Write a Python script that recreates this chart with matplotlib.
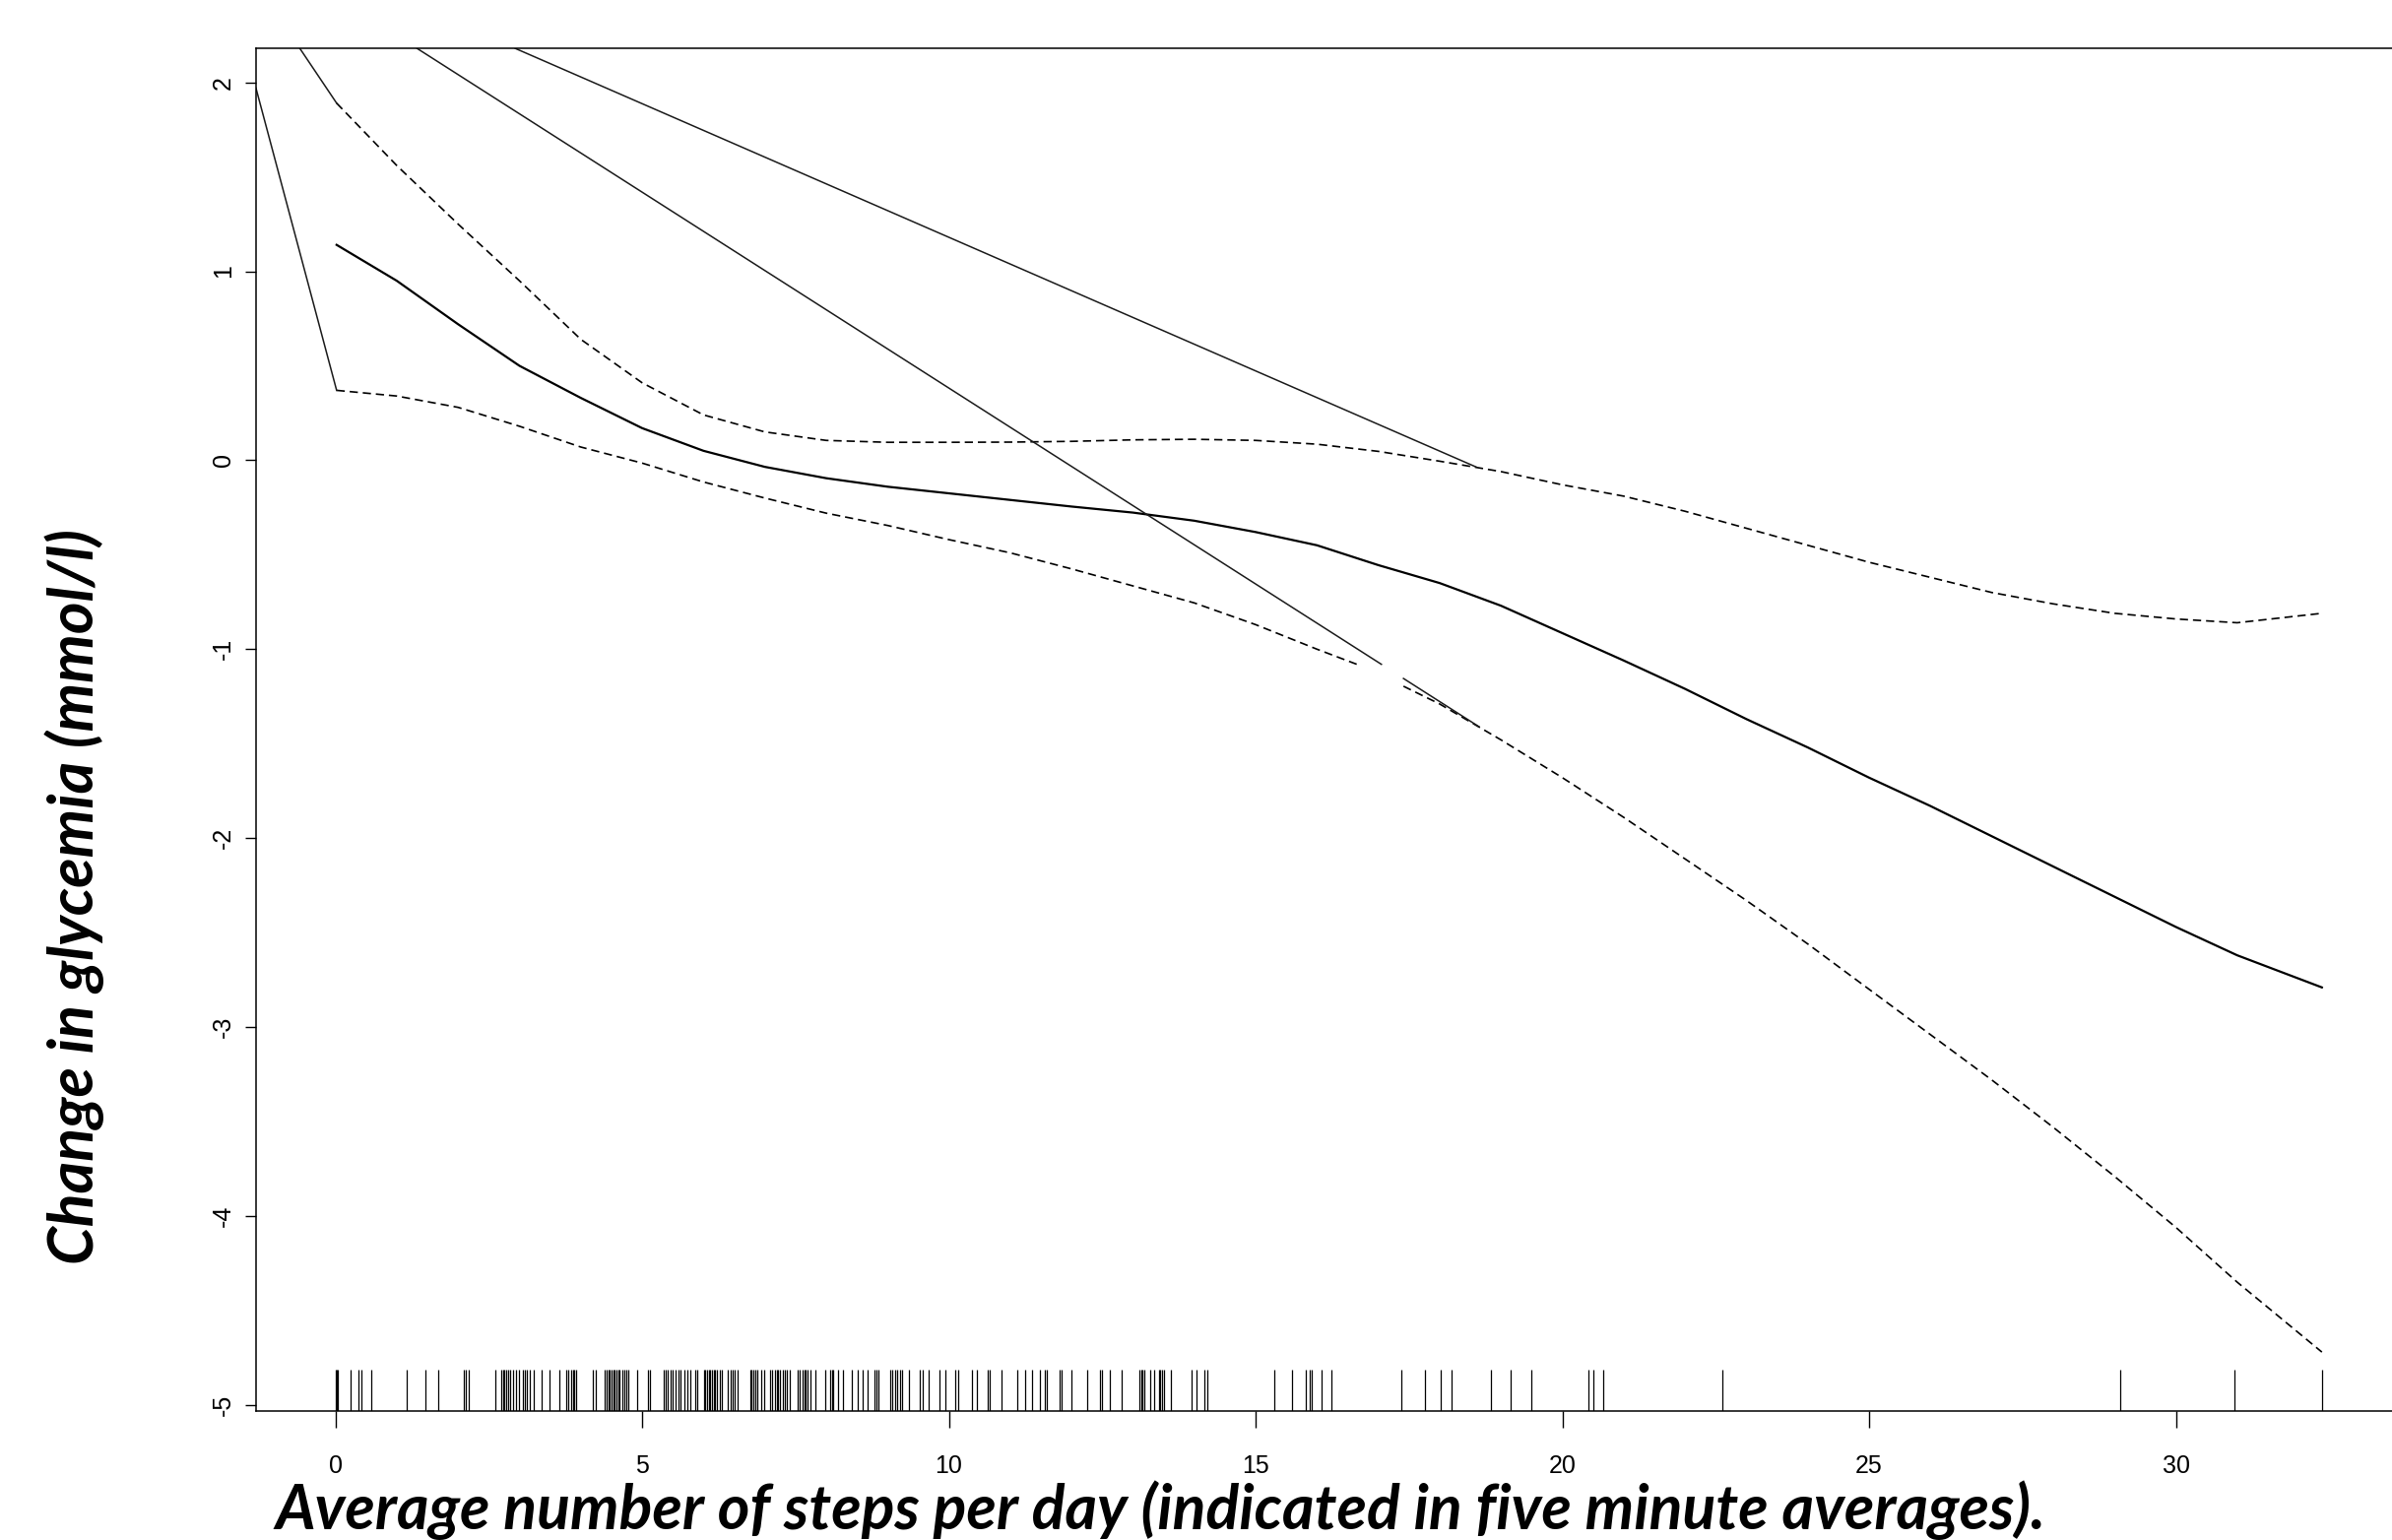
import numpy as np
import matplotlib.pyplot as plt

plt.rcParams['font.family'] = ['Liberation Sans', 'DejaVu Sans']
plt.rcParams['axes.unicode_minus'] = False

# smooth term: fitted curve and dashed band
steps = [0.02, 1, 2, 3, 4, 5, 6, 7, 8, 9, 10, 11, 12, 13, 14, 15, 16,
         17, 18, 19, 20, 21, 22, 23, 24, 25, 26, 27, 28, 29, 30, 31, 32.38]
fit = [1.14, 0.95, 0.72, 0.50, 0.33, 0.17, 0.05, -0.035, -0.095, -0.14,
       -0.175, -0.21, -0.245, -0.277, -0.32, -0.38, -0.45, -0.555, -0.65,
       -0.77, -0.915, -1.06, -1.21, -1.37, -1.52, -1.68, -1.83, -1.99,
       -2.15, -2.31, -2.47, -2.62, -2.79]
upper = [1.89, 1.56, 1.25, 0.95, 0.64, 0.41, 0.24, 0.15, 0.105, 0.095,
         0.095, 0.096, 0.10, 0.108, 0.111, 0.105, 0.085, 0.047, -0.005,
         -0.06, -0.13, -0.19, -0.27, -0.36, -0.45, -0.54, -0.62, -0.70,
         -0.76, -0.81, -0.84, -0.86, -0.81]

# lower band has a small blank patch near x=17
lower_steps = [0.02, 1, 2, 3, 4, 5, 6, 7, 8, 9, 10, 11, 12, 13, 14, 15, 16,
               16.65, np.nan, 17.41, 18, 19, 20, 21, 22, 23, 24, 25, 26, 27,
               28, 29, 30, 31, 32.38]
lower = [0.37, 0.34, 0.28, 0.18, 0.07, -0.015, -0.115, -0.20, -0.28, -0.345,
         -0.42, -0.49, -0.575, -0.665, -0.755, -0.87, -1.00, -1.08, np.nan,
         -1.196, -1.29, -1.48, -1.68, -1.89, -2.11, -2.33, -2.56, -2.80,
         -3.04, -3.28, -3.53, -3.79, -4.06, -4.35, -4.72]

# stray straight strokes that are in the exported picture
strays = [
    ([-1.295, 0.02], [1.97, 0.37]),
    ([-0.58, 0.02], [2.18, 1.89]),
    ([1.33, 17.05, np.nan, 17.41, 18.64], [2.18, -1.08, np.nan, -1.155, -1.41]),
    ([2.93, 18.59], [2.18, -0.035]),
]

# rug of observed values
rug_steps = [
    0.0, 0.02, 0.04, 0.25, 0.38, 0.42, 0.58, 1.16, 1.46, 1.67, 2.09, 2.12,
    2.17, 2.60, 2.70, 2.73, 2.75, 2.78, 2.81, 2.84, 2.90, 2.94, 3.00, 3.06,
    3.09, 3.12, 3.17, 3.24, 3.36, 3.49, 3.65, 3.77, 3.80, 3.84, 3.87, 3.89,
    3.92, 4.20, 4.25, 4.39, 4.42, 4.45, 4.47, 4.50, 4.53, 4.55, 4.58, 4.61,
    4.63, 4.67, 4.71, 4.74, 4.78, 4.92, 5.10, 5.12, 5.35, 5.38, 5.42, 5.46,
    5.50, 5.55, 5.60, 5.63, 5.69, 5.73, 5.79, 5.87, 5.90, 6.01, 6.03, 6.06,
    6.09, 6.11, 6.14, 6.17, 6.19, 6.22, 6.26, 6.30, 6.40, 6.44, 6.47, 6.51,
    6.56, 6.76, 6.78, 6.81, 6.84, 6.88, 6.94, 6.99, 7.08, 7.11, 7.17, 7.20,
    7.22, 7.25, 7.29, 7.32, 7.36, 7.40, 7.54, 7.57, 7.61, 7.64, 7.67, 7.70,
    7.75, 7.83, 7.99, 8.07, 8.10, 8.12, 8.20, 8.27, 8.42, 8.52, 8.60, 8.68,
    8.79, 8.82, 8.85, 9.04, 9.08, 9.12, 9.16, 9.20, 9.23, 9.35, 9.53, 9.57,
    9.67, 9.85, 9.94, 10.11, 10.15, 10.37, 10.45, 10.63, 10.66, 10.85,
    11.11, 11.24, 11.36, 11.49, 11.57, 11.60, 11.81, 11.84, 12.00, 12.25,
    12.47, 12.49, 12.62, 12.82, 13.11, 13.13, 13.16, 13.19, 13.28, 13.35,
    13.42, 13.44, 13.47, 13.50, 13.62, 13.96, 14.04, 14.16, 14.22, 15.31,
    15.59, 15.81, 15.89, 15.91, 16.07, 16.24, 17.38, 17.76, 18.02, 18.19,
    18.84, 19.16, 19.50, 20.43, 20.51, 20.66, 22.60, 29.09, 30.96, 32.38,
]

xticks = [0, 5, 10, 15, 20, 25, 30]
yticks = [-5, -4, -3, -2, -1, 0, 1, 2]

fig = plt.figure(figsize=(24.29, 15.64), dpi=100)
ax = fig.add_axes([0.1070, 0.0840, 0.8969, 0.8846])

ax.plot(steps, fit, color='black', lw=1.6)
ax.plot(steps, upper, color='black', lw=1.2, dashes=(5, 3))
ax.plot(lower_steps, lower, color='black', lw=1.2, dashes=(5, 3))
for sx, sy in strays:
    ax.plot(sx, sy, color='#1a1a1a', lw=1.1)

ax.vlines(rug_steps, 0, 0.03, transform=ax.get_xaxis_transform(),
          color='black', lw=0.9)

ax.set_xlim(-1.295, 33.675)
ax.set_ylim(-5.03, 2.18)
ax.set_xticks(xticks)
ax.set_yticks(yticks)
ax.tick_params(axis='x', length=12, width=1, pad=20, labelsize=18)
ax.tick_params(axis='y', length=8, width=1, pad=7, labelsize=18)
for lab in ax.get_yticklabels():
    lab.set_rotation(90)
    lab.set_va('center')
for s in ax.spines.values():
    s.set_linewidth(1.1)

lab_font = dict(family=['Lato', 'DejaVu Sans'],
                weight='bold', style='italic', size=45)
fig.text(0.1149, 0.0068, 'Average number of steps per day (indicated in five minute averages).',
         ha='left', va='baseline', **lab_font)
fig.text(0.031, 0.418, 'Change in glycemia (mmol/l)', rotation=90,
         ha='center', va='center', **lab_font)

fig.savefig('out.png', dpi=100)
